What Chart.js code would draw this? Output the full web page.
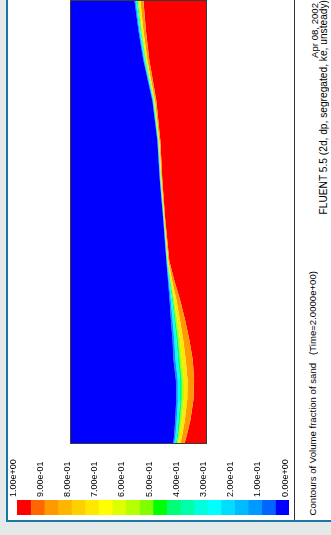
<!DOCTYPE html>
<html>
<head>
<meta charset="utf-8">
<script src="https://cdn.jsdelivr.net/npm/chart.js@4/dist/chart.umd.min.js"></script>
<style>
html,body{margin:0;padding:0;}
body{width:331px;height:535px;overflow:hidden;background:#e4eaea;position:relative;font-family:"Liberation Sans",Arial,sans-serif;color:#000;}
#panel{position:absolute;left:6px;top:-10px;width:330px;height:530px;background:#fff;border-left:2px solid #1b77a6;border-bottom:2px solid #1b77a6;}
#vline{position:absolute;left:294px;top:0;width:1px;height:520px;background:#333;}
#domain{position:absolute;left:70px;top:0;width:135px;height:442px;border:1px solid #3a3a3a;}
#domain canvas{display:block;}
#cbar{position:absolute;left:0;top:440px;}
.vt{position:absolute;writing-mode:vertical-rl;transform:rotate(180deg);white-space:pre;line-height:10px;}
</style>
</head>
<body>
<div id="panel"></div>
<div id="vline"></div>
<div id="domain"><canvas id="field" width="135" height="442"></canvas></div>
<canvas id="cbar" width="300" height="80"></canvas>
<div class="vt" id="title" style="left:308px;bottom:20px;font-size:9.6px;">Contours of Volume fraction of sand   (Time=2.0000e+00)</div>
<div class="vt" id="date" style="left:310px;top:3px;font-size:9.6px;">Apr 08, 2002</div>
<div class="vt" id="solver" style="left:319px;top:0px;font-size:10.2px;">FLUENT 5.5 (2d, dp, segregated, ke, unsteady)</div>
<script>
// ---- contour map of sand volume fraction (domain units: width 0..136, length 0..443) ----
const rowPos = [0, 8, 23, 43, 63, 83, 103, 123, 143, 163, 183, 223, 263, 303, 343, 383, 413, 443];
// position across the domain of each contour level, per row
const level05 = [103.0, 104.0, 105.0, 106.0, 105.7, 103.3, 102.3, 100.7, 99.3, 97.7, 96.0, 93.0, 89.5, 87.0, 82.0, 73.0, 68.0, 64.0];
const level20 = [104.2, 105.3, 106.5, 107.7, 107.6, 105.3, 104.1, 102.3, 100.5, 98.4, 96.4, 93.2, 89.8, 87.4, 82.5, 73.7, 68.9, 65.1];
const level35 = [105.6, 106.8, 108.3, 109.8, 109.8, 107.7, 106.2, 104.0, 101.8, 99.2, 96.8, 93.5, 90.1, 87.8, 83.0, 74.5, 69.9, 66.3];
const level50 = [106.7, 108.1, 109.9, 111.5, 111.6, 109.6, 107.9, 105.4, 102.9, 99.9, 97.1, 93.7, 90.4, 88.1, 83.4, 75.2, 70.7, 67.2];
const level65 = [108.1, 109.6, 111.6, 113.6, 113.8, 111.9, 109.9, 107.1, 104.1, 100.6, 97.4, 94.0, 90.7, 88.4, 83.9, 75.9, 71.6, 68.3];
const level80 = [110.3, 112.1, 114.7, 117.0, 117.4, 115.6, 113.1, 109.8, 106.2, 101.8, 98.0, 94.3, 91.2, 89.0, 84.6, 77.0, 73.0, 69.9];
const level95 = [114.5, 116.7, 120.3, 123.3, 124.0, 122.7, 119.3, 115.0, 110.0, 104.0, 99.0, 95.0, 92.0, 90.0, 86.0, 79.0, 75.5, 73.0];

// ---- colour map (20 levels, value 0.00 -> 1.00) ----
const colorMap = ['#0000ff','#0066ff','#0099ff','#00bbff','#00ddff','#00ffff','#00ffdd','#00ffaa','#00ff77','#00ff00',
                  '#80ff00','#b4ff00','#ddff00','#ffff00','#ffe800','#ffd000','#ffb400','#ff9900','#ff6600','#ff0000'];
const levelMids = [0.025,0.075,0.125,0.175,0.225,0.275,0.325,0.375,0.425,0.475,0.525,0.575,0.625,0.675,0.725,0.775,0.825,0.875,0.925,0.975];
const tickValues = [1.0,0.9,0.8,0.7,0.6,0.5,0.4,0.3,0.2,0.1,0.0];
const tickLabels = ['1.00e+00','9.00e-01','8.00e-01','7.00e-01','6.00e-01','5.00e-01','4.00e-01','3.00e-01','2.00e-01','1.00e-01','0.00e+00'];

Chart.defaults.font.family = '"Liberation Sans", Arial, sans-serif';

const pts = arr => arr.map((v, i) => ({x: v, y: rowPos[i]}));
const curves = [level05, level20, level35, level50, level65, level80, level95];
const bandColors = [colorMap[2], colorMap[5], colorMap[8], colorMap[11], colorMap[14], colorMap[17]];
const datasets = [];
datasets.push({data: pts(level05), backgroundColor: colorMap[0], fill: {value: 0}});
for (let i = 1; i < curves.length; i++) {
  datasets.push({data: pts(curves[i]), backgroundColor: bandColors[i - 1], fill: '-1'});
}
datasets.push({data: pts(level95), backgroundColor: colorMap[19], fill: {value: 136}});

new Chart(document.getElementById('field'), {
  type: 'line',
  data: {datasets},
  options: {
    indexAxis: 'y',
    responsive: false,
    animation: false,
    layout: {padding: 0},
    plugins: {legend: {display: false}, tooltip: {enabled: false}},
    elements: {point: {radius: 0}, line: {borderWidth: 0, tension: 0}},
    scales: {
      x: {type: 'linear', min: 0, max: 136, display: false},
      y: {type: 'linear', min: 0, max: 443, display: false}
    }
  }
});

new Chart(document.getElementById('cbar'), {
  type: 'bar',
  data: {datasets: [{
    data: levelMids.map(v => ({x: v, y: 1})),
    backgroundColor: colorMap,
    borderWidth: 0,
    barPercentage: 1,
    categoryPercentage: 1
  }]},
  options: {
    responsive: false,
    animation: false,
    layout: {padding: {left: 17, right: 11, top: 4, bottom: 5}},
    plugins: {legend: {display: false}, tooltip: {enabled: false}},
    scales: {
      x: {
        type: 'linear', position: 'top', reverse: true, min: 0, max: 1, offset: false,
        grid: {display: false, drawTicks: false}, border: {display: false},
        afterBuildTicks: s => { s.ticks = tickValues.map(v => ({value: v})); },
        afterFit: s => { s.height = 56; },
        ticks: {
          autoSkip: false, minRotation: 90, maxRotation: 90, padding: 3, labelOffset: 7,
          color: '#000', font: {size: 9},
          callback: v => tickLabels[tickValues.findIndex(t => Math.abs(t - v) < 1e-6)]
        }
      },
      y: {min: 0, max: 1, display: false}
    }
  }
});
</script>
</body>
</html>
